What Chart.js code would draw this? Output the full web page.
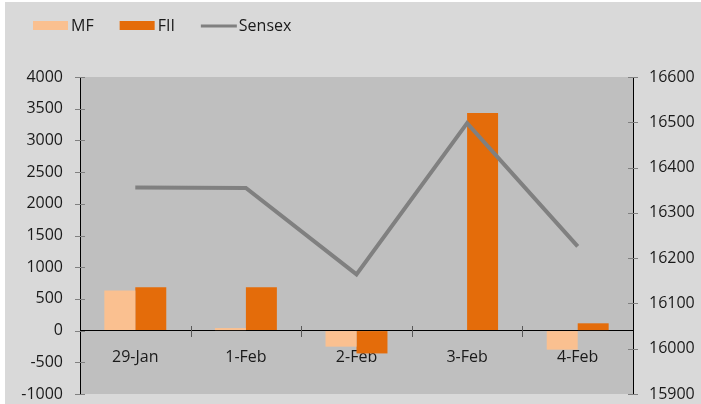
<!DOCTYPE html>
<html lang="en">
<head>
  <meta charset="UTF-8" />
  <title>MF / FII flows vs Sensex</title>
  <script src="https://cdn.jsdelivr.net/npm/chart.js"></script>
  <style>
    html, body {
      margin: 0;
      padding: 0;
      background: #ffffff;
    }
    .chart-box {
      position: absolute;
      left: 5px;
      top: 2px;
      width: 696px;
      height: 402px;
      background: #d9d9d9;
    }
  </style>
</head>
<body>
  <div class="chart-box">
    <canvas id="flowChart"></canvas>
  </div>
  <script>
const days = ['29-Jan', '1-Feb', '2-Feb', '3-Feb', '4-Feb'];
const mfValues = [633, 40, -253, 0, -300];
const fiiValues = [685, 685, -360, 3433, 115];
const sensexValues = [16356, 16355, 16164, 16498, 16226];

const leftTicks = [-1000, 4000, 500];     // min, max, step
const rightTicks = [15900, 16600, 100];

const textColor = '#1a1a1a';
const font = { family: 'Open Sans', size: 16 };
const plain = v => String(v);

// axis widths fixed, no extra room for the end labels
const fitY = w => s => {
  s.width = w;
  s.paddingTop = 0;
  s.paddingBottom = 0;
};

// gray plot area + crossing tick marks + legend
const extras = {
  id: 'extras',
  beforeDraw(chart) {
    const { ctx, chartArea: a } = chart;
    ctx.save();
    ctx.fillStyle = '#bfbfbf';
    ctx.fillRect(a.left, a.top, a.right - a.left, a.bottom - a.top);
    ctx.restore();
  },
  afterDraw(chart) {
    const { ctx, scales } = chart;
    ctx.save();
    ctx.lineWidth = 1;
    ctx.strokeStyle = '#808080';
    ['y', 'y1'].forEach(id => {
      const s = scales[id];
      const x = id === 'y' ? s.right : s.left;
      s.ticks.forEach(t => {
        const py = Math.round(s.getPixelForValue(t.value)) + 0.5;
        ctx.beginPath();
        ctx.moveTo(x - 5, py);
        ctx.lineTo(x + 5, py);
        ctx.stroke();
      });
    });
    const xs = scales.x;
    const zero = Math.round(scales.y.getPixelForValue(0));
    ctx.strokeStyle = '#595959';
    for (let i = 0; i < days.length - 1; i++) {
      const px = Math.round((xs.getPixelForValue(i) + xs.getPixelForValue(i + 1)) / 2) + 0.5;
      ctx.beginPath();
      ctx.moveTo(px, zero - 5);
      ctx.lineTo(px, zero + 6);
      ctx.stroke();
    }

    // legend
    ctx.font = '16px "Open Sans"';
    ctx.textBaseline = 'middle';
    ctx.fillStyle = textColor;
    let x = 28;
    chart.data.datasets
      .slice()
      .sort((a, b) => a.legendIndex - b.legendIndex)
      .forEach(ds => {
        if (ds.type === 'line') {
          ctx.strokeStyle = ds.borderColor;
          ctx.lineWidth = 3;
          ctx.beginPath();
          ctx.moveTo(x, 24);
          ctx.lineTo(x + 36, 24);
          ctx.stroke();
        } else {
          ctx.fillStyle = ds.backgroundColor;
          ctx.fillRect(x, 19, 35, 9);
        }
        ctx.fillStyle = textColor;
        ctx.fillText(ds.label, x + 38, 24);
        x += 38 + ctx.measureText(ds.label).width + 26;
      });
    ctx.restore();
  }
};

new Chart(document.getElementById('flowChart'), {
  data: {
    labels: days,
    datasets: [
      {
        type: 'line',
        label: 'Sensex',
        data: sensexValues,
        yAxisID: 'y1',
        borderColor: '#808080',
        borderWidth: 4,
        pointRadius: 0,
        tension: 0,
        order: 0,
        legendIndex: 2
      },
      {
        type: 'bar',
        label: 'MF',
        data: mfValues,
        yAxisID: 'y',
        backgroundColor: '#fac090',
        order: 1,
        legendIndex: 0
      },
      {
        type: 'bar',
        label: 'FII',
        data: fiiValues,
        yAxisID: 'y',
        backgroundColor: '#e46c0a',
        order: 1,
        legendIndex: 1
      }
    ]
  },
  options: {
    responsive: true,
    maintainAspectRatio: false,
    animation: false,
    layout: { padding: { top: 75, bottom: 10, left: 0, right: 0 } },
    datasets: {
      bar: { categoryPercentage: 0.56, barPercentage: 1 }
    },
    plugins: {
      legend: { display: false },
      tooltip: { enabled: false }
    },
    scales: {
      x: {
        position: { y: 0 },
        offset: true,
        afterFit: s => { s.height = 0; },
        grid: { display: false, drawTicks: false },
        border: { display: true, color: '#000000', width: 1 },
        ticks: { color: textColor, font: font, padding: 17, maxRotation: 0 }
      },
      y: {
        position: 'left',
        min: leftTicks[0],
        max: leftTicks[1],
        afterFit: fitY(75),
        grid: { drawOnChartArea: false, drawTicks: false },
        border: { display: true, color: '#000000', width: 1 },
        ticks: { stepSize: leftTicks[2], color: textColor, font: font, padding: 17, callback: plain }
      },
      y1: {
        position: 'right',
        min: rightTicks[0],
        max: rightTicks[1],
        afterFit: fitY(68),
        grid: { drawOnChartArea: false, drawTicks: false },
        border: { display: true, color: '#000000', width: 1 },
        ticks: { stepSize: rightTicks[2], color: textColor, font: font, padding: 16, callback: plain }
      }
    }
  },
  plugins: [extras]
});
  </script>
</body>
</html>
